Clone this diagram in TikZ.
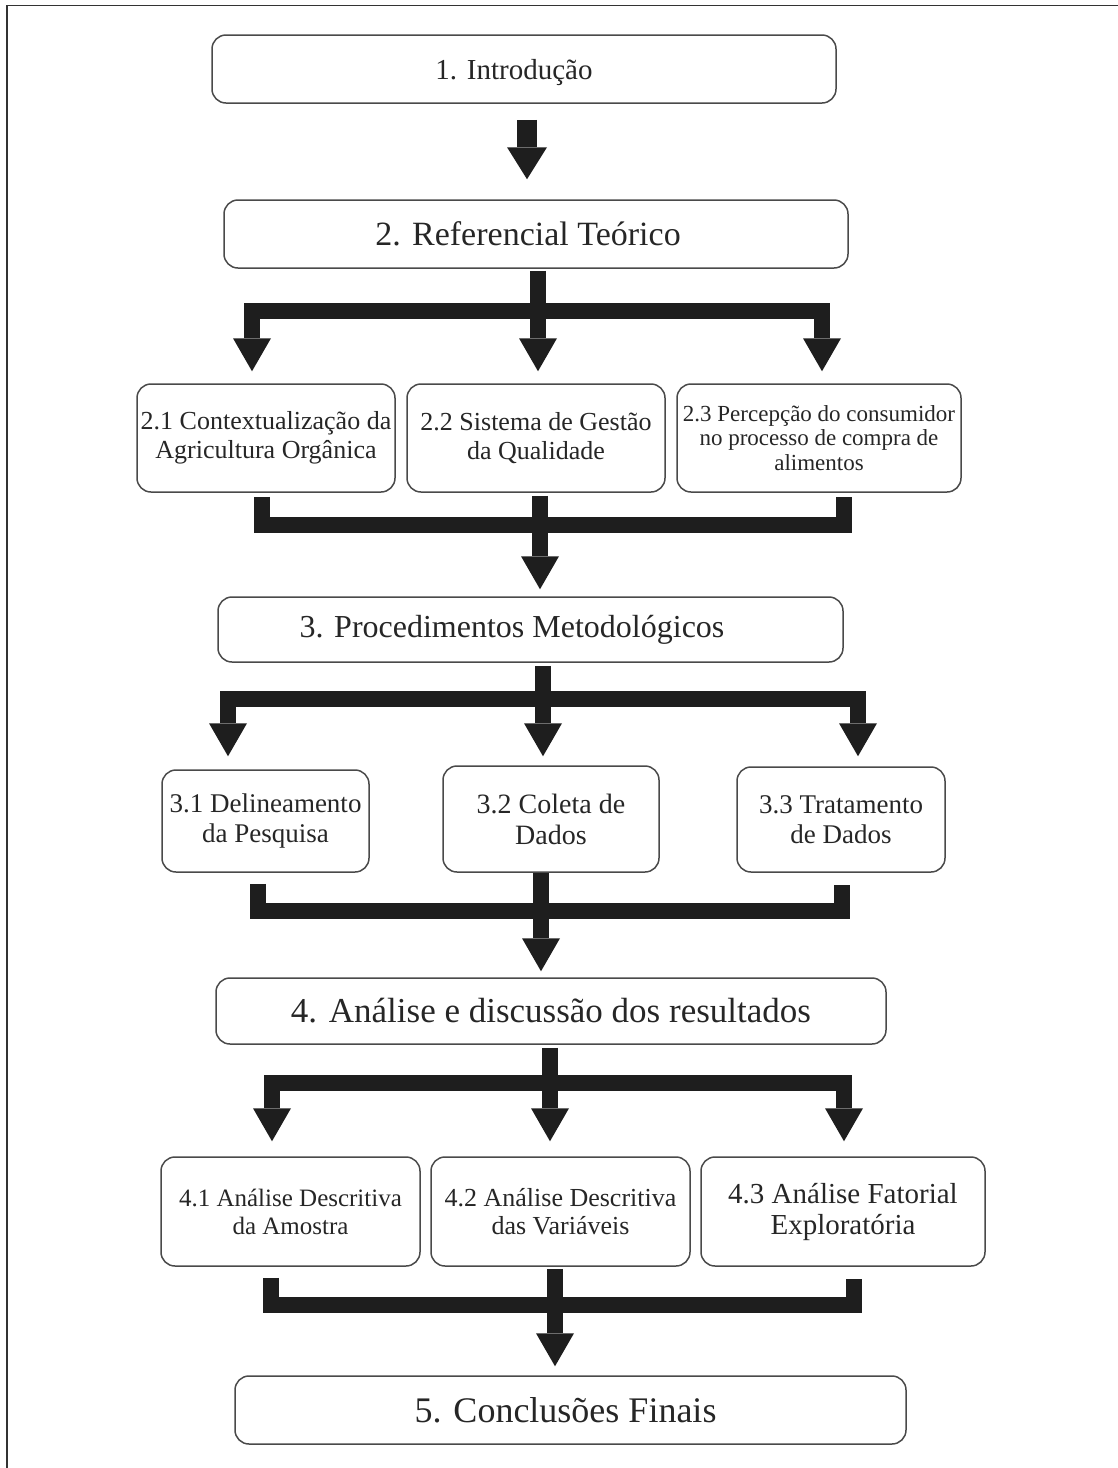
\documentclass[tikz,border=0pt]{standalone}
\usepackage{fontspec}
\setmainfont{Liberation Serif}
\usetikzlibrary{arrows.meta}
\definecolor{ink}{HTML}{1E1E1E}
\definecolor{edge}{HTML}{4A4A4A}
\definecolor{txt}{HTML}{262626}
\begin{document}
\begin{tikzpicture}[x=1pt,y=-1pt,
  mainbox/.style={draw=edge, line width=1.5pt, rounded corners=14pt,
    text=txt, inner sep=0pt},
  box/.style={mainbox, align=center},
  fs/.style n args={2}{font=\fontsize{#1}{#2}\selectfont},
  frame/.style={draw=black!80, line width=1.3pt},
  bar/.style={draw=ink, line width=16pt, line cap=rect},
  elbow/.style={draw=ink, line width=16pt, line join=miter},
  bigarrow/.style={draw=ink, line width=16pt,
    -{Triangle[width=38pt,length=33pt,line width=0pt]}}]
\useasboundingbox (0,0) rectangle (1118,1468);

% page frame (left and top edges)
\draw[frame] (7,1468) -- (7,5.5) -- (1118,5.5);

% main sections (a trailing kern nudges the title left of centre)
\node[mainbox, minimum width=624pt, minimum height=68pt, fs={29}{33}] (b1) at (524,69) {\raisebox{-4pt}[\height][\depth]{1. Introdução}\kern20pt};
\node[mainbox, minimum width=624pt, minimum height=68pt, fs={34}{38}] (b2) at (536,234) {2. Referencial Teórico\kern16pt};
\node[mainbox, minimum width=625pt, minimum height=65pt, fs={32}{36}] (b3) at (530.5,629.5) {3. Procedimentos Metodológicos\kern37pt};
\node[mainbox, minimum width=670pt, minimum height=66pt, fs={35}{39}] (b4) at (551,1011) {4. Análise e discussão dos resultados};
\node[mainbox, minimum width=671pt, minimum height=68pt, fs={36}{40}] (b5) at (570.5,1410) {5. Conclusões Finais\kern10pt};

% subsections of 2
\node[box, minimum width=258pt, minimum height=108pt, fs={26}{29.5}] (c21) at (266,438) {2.1 Contextualização da\\Agricultura Orgânica};
\node[box, minimum width=258pt, minimum height=108pt, fs={26}{29.5}] (c22) at (536,438) {2.2 Sistema de Gestão\\da Qualidade};
\node[box, minimum width=284pt, minimum height=108pt, fs={23}{24.5}] (c23) at (819,438) {2.3 Percepção do consumidor\\no processo de compra de\\alimentos};

% subsections of 3
\node[box, minimum width=207pt, minimum height=102pt, fs={27}{30}] (c31) at (265.5,821) {3.1 Delineamento\\da Pesquisa};
\node[box, minimum width=216pt, minimum height=106pt, fs={28}{31}] (c32) at (551,819) {3.2 Coleta de\\Dados};
\node[box, minimum width=208pt, minimum height=105pt, fs={27}{30}] (c33) at (841,819.5) {3.3 Tratamento\\de Dados};

% subsections of 4
\node[box, minimum width=259pt, minimum height=109pt, fs={25}{28}] (c41) at (290.5,1211.5) {4.1 Análise Descritiva\\da Amostra};
\node[box, minimum width=259pt, minimum height=109pt, fs={26}{28}] (c42) at (560.5,1211.5) {4.2 Análise Descritiva\\das Variáveis};
\node[box, minimum width=284pt, minimum height=109pt, fs={29}{31}] (c43) at (843,1211.5) {4.3 Análise Fatorial\\Exploratória};

% 1 -> 2
\coordinate (k1) at (527,150);
\draw[bigarrow, line width=20pt, -{Triangle[width=40pt,length=32pt,line width=0pt]},
  shorten <=16pt, shorten >=20pt] (b1.south -| k1) -- (b2.north -| k1);

% 2 -> 2.1, 2.2, 2.3
\coordinate (sAL) at (252,311);
\coordinate (sAC) at (538,311);
\coordinate (sAR) at (822,311);
\draw[bar] (sAL) -- (sAR);
\draw[bigarrow, shorten >=12pt] (sAL) -- (c21.north -| sAL);
\draw[bigarrow, shorten <=2pt, shorten >=12pt] (b2.south -| sAC) -- (c22.north -| sAC);
\draw[bigarrow, shorten >=12pt] (sAR) -- (c23.north -| sAR);

% 2.x -> 3
\coordinate (mAL) at (262,525);
\coordinate (mAC) at (540,525);
\coordinate (mAR) at (844,525);
\draw[elbow, shorten <=4pt, shorten >=4pt] (c21.south -| mAL) -- (mAL) -- (mAR) -- (c23.south -| mAR);
\draw[bigarrow, shorten <=3pt, shorten >=7pt] (c22.south -| mAC) -- (b3.north -| mAC);

% 3 -> 3.1, 3.2, 3.3
\coordinate (sBL) at (228,699);
\coordinate (sBC) at (543,699);
\coordinate (sBR) at (858,699);
\draw[bar] (sBL) -- (sBR);
\draw[bigarrow, shorten >=13pt] (sBL) -- (c31.north -| sBL);
\draw[bigarrow, shorten <=3pt, shorten >=9pt] (b3.south -| sBC) -- (c32.north -| sBC);
\draw[bigarrow, shorten >=10pt] (sBR) -- (c33.north -| sBR);

% 3.x -> 4
\coordinate (mBL) at (258,911);
\coordinate (mBC) at (541,911);
\coordinate (mBR) at (841.5,911);
\draw[elbow, shorten <=11pt, shorten >=12pt] (c31.south -| mBL) -- (mBL) -- (mBR) -- (c33.south -| mBR);
\draw[bigarrow, shorten >=6pt] (c32.south -| mBC) -- (b4.north -| mBC);

% 4 -> 4.1, 4.2, 4.3
\coordinate (sCL) at (272,1083);
\coordinate (sCC) at (550,1083);
\coordinate (sCR) at (844,1083);
\draw[bar] (sCL) -- (sCR);
\draw[bigarrow, shorten >=15pt] (sCL) -- (c41.north -| sCL);
\draw[bigarrow, shorten <=3pt, shorten >=15pt] (b4.south -| sCC) -- (c42.north -| sCC);
\draw[bigarrow, shorten >=15pt] (sCR) -- (c43.north -| sCR);

% 4.x -> 5
\coordinate (mCL) at (271,1305);
\coordinate (mCC) at (555,1305);
\coordinate (mCR) at (853.5,1305);
\draw[elbow, shorten <=11pt, shorten >=12pt] (c41.south -| mCL) -- (mCL) -- (mCR) -- (c43.south -| mCR);
\draw[bigarrow, shorten <=2pt, shorten >=9pt] (c42.south -| mCC) -- (b5.north -| mCC);
\end{tikzpicture}
\end{document}
